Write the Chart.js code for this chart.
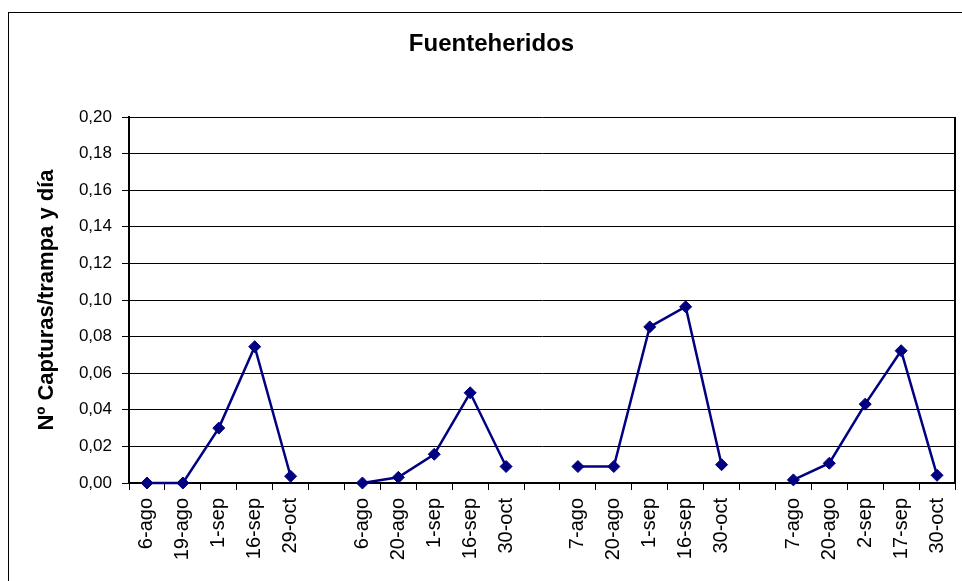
<!DOCTYPE html>
<html>
<head>
<meta charset="utf-8">
<script src="https://cdn.jsdelivr.net/npm/chart.js@4"></script>
<style>
  body { margin: 0; background: #fff; }
  canvas { display: block; }
</style>
</head>
<body>
<canvas id="chart" width="962" height="581"></canvas>
<script>
// fechas de muestreo (cuatro campañas, separadas por un hueco)
var fechas = ['6-ago', '19-ago', '1-sep', '16-sep', '29-oct', '',
              '6-ago', '20-ago', '1-sep', '16-sep', '30-oct', '',
              '7-ago', '20-ago', '1-sep', '16-sep', '30-oct', '',
              '7-ago', '20-ago', '2-sep', '17-sep', '30-oct'];

var campana1 = [0, 0, 0.030, 0.0745, 0.0037];
var campana2 = [0, 0.0031, 0.0157, 0.0493, 0.0090];
var campana3 = [0.0090, 0.0090, 0.0853, 0.0963, 0.0100];
var campana4 = [0.0017, 0.0108, 0.0431, 0.0723, 0.0042];

var yTicks = [0, 0.02, 0.04, 0.06, 0.08, 0.10, 0.12, 0.14, 0.16, 0.18, 0.20];

// serie unica con null en los huecos
var capturas = campana1.concat([null], campana2, [null], campana3, [null], campana4);

var fontFam = '"Liberation Sans", Arial, sans-serif';

var marco = {
    id: 'marco',
    beforeDraw: function (chart) {
        var ctx = chart.ctx;
        ctx.save();
        ctx.fillStyle = '#fff';
        ctx.fillRect(0, 0, chart.width, chart.height);
        ctx.strokeStyle = '#000';
        ctx.lineWidth = 1;
        ctx.strokeRect(8.5, 12.5, 980, 600);
        ctx.restore();
    },
    afterDraw: function (chart) {
        var a = chart.chartArea;
        var ctx = chart.ctx;
        ctx.save();
        ctx.strokeStyle = '#000';
        ctx.lineWidth = 2;
        ctx.beginPath();
        ctx.moveTo(a.right, a.top);
        ctx.lineTo(a.right, a.bottom);
        ctx.stroke();
        ctx.restore();
    }
};

new Chart(document.getElementById('chart'), {
    type: 'line',
    data: {
        labels: fechas,
        datasets: [{
            label: 'Fuenteheridos',
            data: capturas,
            borderColor: '#000080',
            backgroundColor: '#000080',
            borderWidth: 2.5,
            pointStyle: 'rectRot',
            pointRadius: 6,
            pointBorderWidth: 1,
            spanGaps: false,
            tension: 0,
            fill: false,
            clip: false
        }]
    },
    options: {
        responsive: false,
        animation: false,
        layout: { padding: { left: 28, right: 7, top: 0, bottom: 18 } },
        plugins: {
            legend: { display: false },
            tooltip: { enabled: false },
            title: {
                display: true,
                text: 'Fuenteheridos',
                color: '#000',
                font: { family: fontFam, size: 24, weight: 'bold', lineHeight: 1.2 },
                padding: { top: 30, bottom: 58.2 }
            }
        },
        scales: {
            x: {
                offset: true,
                afterFit: function (s) {
                    s.height = 80;
                    s.paddingLeft = 0;
                    s.paddingRight = 0;
                },
                grid: {
                    display: true,
                    offset: true,
                    drawOnChartArea: false,
                    tickLength: 7,
                    color: '#000'
                },
                border: { color: '#000', width: 2 },
                ticks: {
                    autoSkip: false,
                    maxRotation: 90,
                    minRotation: 90,
                    padding: 8,
                    color: '#000',
                    font: { family: fontFam, size: 20 }
                }
            },
            y: {
                min: 0,
                max: 0.2,
                afterFit: function (s) { s.width = 101; },
                afterBuildTicks: function (s) {
                    s.ticks = yTicks.map(function (v) { return { value: v }; });
                },
                grid: { color: '#000', lineWidth: 1, tickLength: 7 },
                border: { color: '#000', width: 2 },
                ticks: {
                    padding: 10,
                    color: '#000',
                    font: { family: fontFam, size: 17 },
                    callback: function (v) { return v.toFixed(2).replace('.', ','); }
                },
                title: {
                    display: true,
                    text: 'Nº Capturas/trampa y día',
                    color: '#000',
                    font: { family: fontFam, size: 22, weight: 'bold', lineHeight: 1.2 },
                    padding: { top: 6, bottom: 0 }
                }
            }
        }
    },
    plugins: [marco]
});
</script>
</body>
</html>
